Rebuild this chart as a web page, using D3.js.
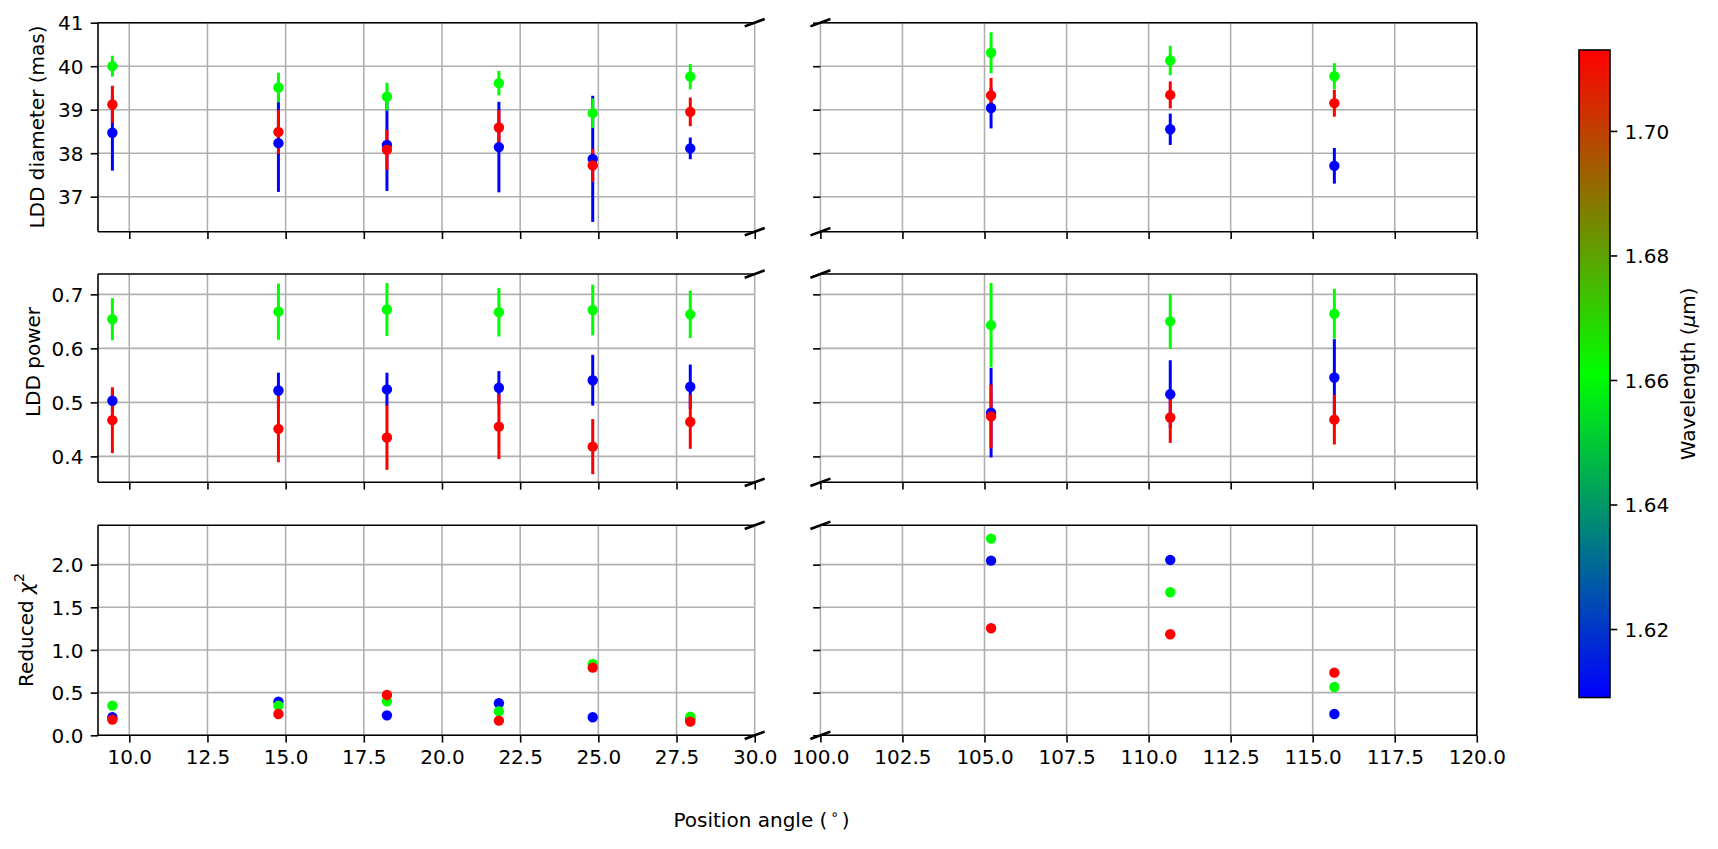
<!DOCTYPE html>
<html>
<head>
<meta charset="utf-8">
<title>LDD fits vs position angle</title>
<script src="https://cdn.jsdelivr.net/npm/d3@7"></script>
<style>
  body { margin: 0; background: #fff; }
  text { font-family: "DejaVu Sans", sans-serif; }
</style>
</head>
<body>
<script>
// position angle of each observation (deg), first six on the left panel, last three on the right
var positionAngle = [9.46, 14.77, 18.24, 21.82, 24.82, 27.94, 105.2, 110.66, 115.66];
// the three wavelengths (micron): blue, green, red
var wavelengths = [1.609, 1.661, 1.713];

// LDD diameter (mas)
var diamBlue = [38.47, 38.23, 38.19, 38.14, 37.87, 38.11, 39.04, 38.55, 37.71];
var diamBlueErr = [0.87, 1.12, 1.06, 1.04, 1.45, 0.25, 0.47, 0.36, 0.41];
var diamGreen = [40.0, 39.51, 39.30, 39.61, 38.92, 39.76, 40.31, 40.13, 39.77];
var diamGreenErr = [0.24, 0.34, 0.32, 0.28, 0.34, 0.29, 0.47, 0.34, 0.30];
var diamRed = [39.12, 38.49, 38.08, 38.59, 37.72, 38.95, 39.33, 39.34, 39.15];
var diamRedErr = [0.43, 0.50, 0.46, 0.40, 0.38, 0.33, 0.40, 0.31, 0.31];

// LDD power
var powBlue = [0.503, 0.522, 0.524, 0.527, 0.541, 0.529, 0.481, 0.515, 0.546];
var powBlueErr = [0.02, 0.033, 0.031, 0.031, 0.047, 0.041, 0.083, 0.063, 0.071];
var powGreen = [0.654, 0.668, 0.672, 0.667, 0.671, 0.663, 0.643, 0.650, 0.664];
var powGreenErr = [0.039, 0.052, 0.049, 0.045, 0.047, 0.044, 0.078, 0.051, 0.046];
var powRed = [0.467, 0.451, 0.435, 0.455, 0.418, 0.464, 0.474, 0.472, 0.468];
var powRedErr = [0.061, 0.062, 0.060, 0.060, 0.051, 0.050, 0.059, 0.047, 0.046];

// reduced chi^2
var chiBlue = [0.211, 0.395, 0.234, 0.375, 0.211, 0.19, 2.047, 2.055, 0.25];
var chiGreen = [0.348, 0.348, 0.398, 0.281, 0.836, 0.219, 2.305, 1.676, 0.566];
var chiRed = [0.184, 0.25, 0.473, 0.172, 0.793, 0.16, 1.254, 1.184, 0.734];

// tick labels
var leftXTicks = [10, 12.5, 15, 17.5, 20, 22.5, 25, 27.5, 30];
var rightXTicks = [100, 102.5, 105, 107.5, 110, 112.5, 115, 117.5, 120];
var diamTicks = [37, 38, 39, 40, 41];
var powTicks = [0.4, 0.5, 0.6, 0.7];
var chiTicks = [0, 0.5, 1, 1.5, 2];
var cbarTicks = [1.62, 1.64, 1.66, 1.68, 1.70];

var w = 1718, h = 849;
var fs = 20;   // font size
var tick = 7.3; // tick length and pad
var svg = d3.select("body").append("svg").attr("width", w).attr("height", h);

// colormap blue -> green -> red over the wavelength range
var cmap = d3.scaleLinear().domain([1.609, 1.661, 1.713]).range(["#0000ff", "#00ff00", "#ff0000"]);

var sides = [
  { scale: d3.scaleLinear().domain([9, 30]).range([98, 754.7]), ticks: leftXTicks, left: true },
  { scale: d3.scaleLinear().domain([100, 120]).range([820.4, 1476.8]), ticks: rightXTicks, left: false }
];

var rows = [
  { top: 22.7, bottom: 231.7, domain: [36.195, 41], ticks: diamTicks, fmt: d3.format("d"),
    vals: [diamBlue, diamGreen, diamRed], errs: [diamBlueErr, diamGreenErr, diamRedErr] },
  { top: 274, bottom: 482.3, domain: [0.352, 0.7377], ticks: powTicks, fmt: d3.format(".1f"),
    vals: [powBlue, powGreen, powRed], errs: [powBlueErr, powGreenErr, powRedErr] },
  { top: 525.3, bottom: 735.3, domain: [0, 2.461], ticks: chiTicks, fmt: d3.format(".1f"),
    vals: [chiBlue, chiGreen, chiRed], errs: null }
];

function styleAxis(g) {
  g.select(".domain").remove();
  g.selectAll(".tick line").attr("stroke", "#000").attr("stroke-width", 1.6);
  g.selectAll(".tick text").attr("fill", "#000");
  g.attr("font-size", fs).attr("font-family", "DejaVu Sans");
}

rows.forEach(function (row, ri) {
  var y = d3.scaleLinear().domain(row.domain).range([row.bottom, row.top]);
  sides.forEach(function (side) {
    var x = side.scale;
    var x0 = x.range()[0], x1 = x.range()[1];
    var g = svg.append("g");
    var idx = d3.range(positionAngle.length).filter(function (i) {
      return positionAngle[i] >= x.domain()[0] && positionAngle[i] <= x.domain()[1];
    });

    // grid
    g.selectAll(".vgrid").data(side.ticks).enter().append("line")
      .attr("x1", function (d) { return x(d); }).attr("x2", function (d) { return x(d); })
      .attr("y1", row.top).attr("y2", row.bottom)
      .attr("stroke", "#b0b0b0").attr("stroke-width", 1.6);
    g.selectAll(".hgrid").data(row.ticks).enter().append("line")
      .attr("x1", x0).attr("x2", x1)
      .attr("y1", function (d) { return y(d); }).attr("y2", function (d) { return y(d); })
      .attr("stroke", "#b0b0b0").attr("stroke-width", 1.6);

    // error bars first (blue, green, red), then all markers on top
    if (row.errs) {
      row.vals.forEach(function (vals, k) {
        var errs = row.errs[k];
        g.selectAll(null).data(idx).enter().append("line")
          .attr("x1", function (i) { return x(positionAngle[i]); })
          .attr("x2", function (i) { return x(positionAngle[i]); })
          .attr("y1", function (i) { return y(vals[i] - errs[i]); })
          .attr("y2", function (i) { return y(vals[i] + errs[i]); })
          .attr("stroke", cmap(wavelengths[k])).attr("stroke-width", 3);
      });
    }
    row.vals.forEach(function (vals, k) {
      g.selectAll(null).data(idx).enter().append("circle")
        .attr("cx", function (i) { return x(positionAngle[i]); })
        .attr("cy", function (i) { return y(vals[i]); })
        .attr("r", 5.2)
        .attr("fill", cmap(wavelengths[k]));
    });

    // spines
    g.append("line").attr("x1", x0).attr("x2", x1).attr("y1", row.top).attr("y2", row.top)
      .attr("stroke", "#000").attr("stroke-width", 1.6);
    g.append("line").attr("x1", x0).attr("x2", x1).attr("y1", row.bottom).attr("y2", row.bottom)
      .attr("stroke", "#000").attr("stroke-width", 1.6);
    var sx = side.left ? x0 : x1;
    g.append("line").attr("x1", sx).attr("x2", sx).attr("y1", row.top).attr("y2", row.bottom)
      .attr("stroke", "#000").attr("stroke-width", 1.6);

    // x axis ticks, labels only on the bottom row
    var xa = d3.axisBottom(x).tickValues(side.ticks).tickSize(tick).tickPadding(tick)
      .tickFormat(ri === 2 ? d3.format(".1f") : function () { return ""; });
    g.append("g").attr("transform", "translate(0," + row.bottom + ")").call(xa).call(styleAxis);

    // y axis ticks on the left edge of each panel, labels only on the left panel
    var ya = d3.axisLeft(y).tickValues(row.ticks).tickSize(tick).tickPadding(tick)
      .tickFormat(side.left ? row.fmt : function () { return ""; });
    var yg = g.append("g").attr("transform", "translate(" + x0 + ",0)").call(ya).call(styleAxis);
    yg.selectAll(".tick text").attr("dy", "0.36em");

    // break marks
    var bx = side.left ? x1 : x0;
    [row.top, row.bottom].forEach(function (by) {
      g.append("line").attr("x1", bx - 10).attr("y1", by + 3.7).attr("x2", bx + 10).attr("y2", by - 3.7)
        .attr("stroke", "#000").attr("stroke-width", 2.6);
    });
  });
});

// y labels
function ylabel(xp, yp, build) {
  var t = svg.append("text").attr("transform", "translate(" + xp + "," + yp + ") rotate(-90)")
    .attr("text-anchor", "middle").attr("font-size", fs).attr("fill", "#000");
  build(t);
}
ylabel(44, 127, function (t) { t.text("LDD diameter (mas)"); });
ylabel(39.5, 362, function (t) { t.text("LDD power"); });
ylabel(33, 630, function (t) {
  t.append("tspan").text("Reduced ");
  t.append("tspan").attr("font-style", "italic").text("χ");
  t.append("tspan").attr("font-size", 14).attr("dy", -9).text("2");
});

// x label
var xl = svg.append("text").attr("x", 761.5).attr("y", 827.3).attr("text-anchor", "middle")
  .attr("font-size", fs).attr("fill", "#000");
xl.append("tspan").text("Position angle (");
xl.append("tspan").attr("font-size", 14).attr("dy", -8).text("\u2009∘\u2009");
xl.append("tspan").attr("dy", 8).text(")");

// colorbar
var cb = { x0: 1579, x1: 1610, top: 50, bottom: 697.5 };
var cy = d3.scaleLinear().domain([1.609, 1.713]).range([cb.bottom, cb.top]);
var grad = svg.append("defs").append("linearGradient").attr("id", "cbar")
  .attr("x1", 0).attr("y1", 1).attr("x2", 0).attr("y2", 0);
cmap.domain().forEach(function (v) {
  grad.append("stop").attr("offset", (v - 1.609) / (1.713 - 1.609)).attr("stop-color", cmap(v));
});
svg.append("rect").attr("x", cb.x0).attr("y", cb.top).attr("width", cb.x1 - cb.x0)
  .attr("height", cb.bottom - cb.top).attr("fill", "url(#cbar)")
  .attr("stroke", "#000").attr("stroke-width", 1.6);
var cg = svg.append("g").attr("transform", "translate(" + cb.x1 + ",0)")
  .call(d3.axisRight(cy).tickValues(cbarTicks).tickSize(tick).tickPadding(tick).tickFormat(d3.format(".2f")))
  .call(styleAxis);
cg.selectAll(".tick text").attr("dy", "0.36em");

var cl = svg.append("text").attr("transform", "translate(1694.5," + ((cb.top + cb.bottom) / 2) + ") rotate(-90)")
  .attr("text-anchor", "middle").attr("font-size", fs).attr("fill", "#000");
cl.append("tspan").text("Wavelength (");
cl.append("tspan").attr("font-style", "italic").text("μ");
cl.append("tspan").text("m)");
</script>
</body>
</html>
